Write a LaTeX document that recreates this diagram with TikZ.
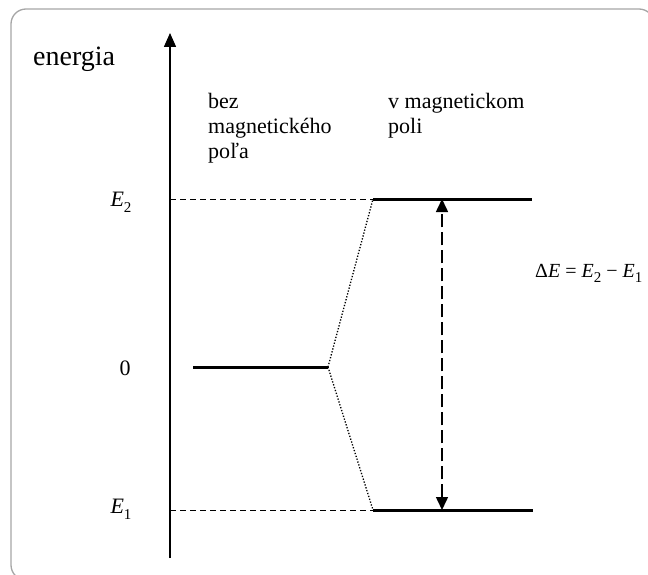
\documentclass[tikz,border=0pt]{standalone}
\usepackage{fontspec}
\setmainfont{Liberation Serif}
\usetikzlibrary{arrows.meta}
\begin{document}
\begin{tikzpicture}[x=1pt,y=-1pt,
  lbl/.style={inner sep=0pt, anchor=base west, font=\fontsize{22}{25}\selectfont},
  elbl/.style={inner sep=0pt, anchor=base, font=\fontsize{22}{25}\selectfont},
  lvl/.style={line width=3pt},
  guide/.style={line width=1pt, dash pattern=on 6pt off 4pt},
  corr/.style={line width=1.3pt, dash pattern=on 1.3pt off 1.7pt},
  axis/.style={line width=1.5pt, -{Triangle[length=14pt,width=12pt]}},
  gap/.style={line width=1.5pt, dash pattern=on 13pt off 5pt,
    {Triangle[length=13pt,width=12pt]}-{Triangle[length=13pt,width=12pt]}},
  frame/.style={draw=black!35, line width=1.3pt, rounded corners=15pt}]
\newcommand{\Esub}[1]{\textit{E}\raisebox{-0.28em}{\fontsize{15}{15}\selectfont #1}}
\newcommand{\linesT}[1]{\begin{tabular}[t]{@{}l@{}}#1\end{tabular}}
\useasboundingbox (0,0) rectangle (648,575);
\begin{scope}
  \clip (0,0) rectangle (648,575);
  \draw[frame] (11,9) rectangle (654,580);
\end{scope}
% axis
\coordinate (axb) at (170,558);
\coordinate (axt) at (170,33);
\draw[axis] (axb) -- (axt);
% levels
\coordinate (e2a) at (170,199);
\coordinate (e2l) at (373,199);
\coordinate (e2r) at (532,199);
\coordinate (e1a) at (170,510);
\coordinate (e1l) at (373,510);
\coordinate (e1r) at (533,510);
\coordinate (z0l) at (193,367);
\coordinate (z0r) at (328,367);
\coordinate (gt) at (442,199);
\coordinate (gb) at (442,510);
\draw[guide] (e2a) -- (e2l);
\draw[guide] (e1a) -- (e1l);
\draw[lvl] (e2l) -- (e2r);
\draw[lvl] (e1l) -- (e1r);
\draw[lvl] (z0l) -- (z0r);
\draw[corr] (z0r) -- (e2l);
\draw[corr] (z0r) -- (e1l);
\draw[gap] (gb) -- (gt);
% labels
\node[lbl, font=\fontsize{28}{30}\selectfont] (en) at (33,66) {energia};
\node[lbl] (bez) at (208,109) {\linesT{bez\\magnetického\\poľa}};
\node[lbl] (vmag) at (388,109) {\linesT{v magnetickom\\poli}};
\node[elbl] (le2) at (121,206) {\Esub{2}};
\node[elbl] (l0) at (125,375) {0};
\node[elbl] (le1) at (121,513) {\Esub{1}};
\node[lbl, font=\fontsize{20}{24}\selectfont] (de) at (535,277) {Δ\textit{E} = \Esub{2} − \Esub{1}};
\end{tikzpicture}
\end{document}
